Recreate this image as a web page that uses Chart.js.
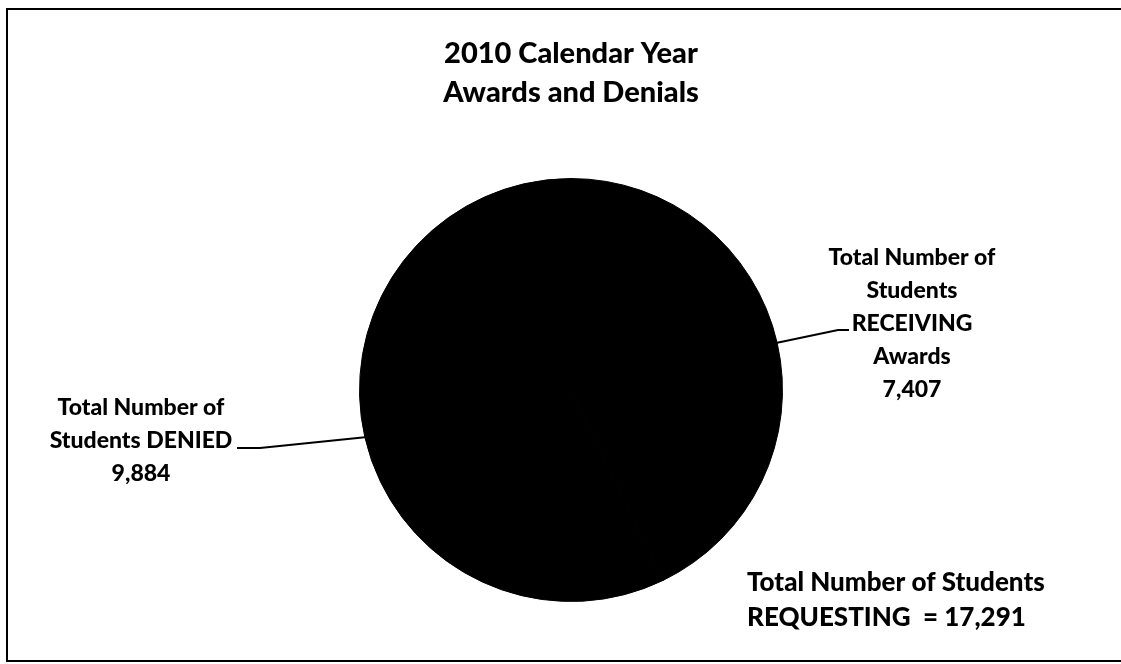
<!DOCTYPE html>
<html lang="en">
<head>
    <meta charset="UTF-8">
    <title>2010 Calendar Year Awards and Denials</title>
    <script src="https://cdn.jsdelivr.net/npm/chart.js"></script>
    <style>
        body { margin: 0; background: #fff; }
        .chart-container { width: 1121px; height: 664px; position: relative; }
    </style>
</head>
<body>
    <div class="chart-container">
        <canvas id="myChart"></canvas>
    </div>

    <script>
        // Data
        const categories = ['Total Number of Students RECEIVING Awards', 'Total Number of Students DENIED'];
        const studentCounts = [7407, 9884];
        const labelLines = [
            ['Total Number of', 'Students', 'RECEIVING', 'Awards'],
            ['Total Number of', 'Students DENIED']
        ];
        const totalLines = ['Total Number of Students', 'REQUESTING  = 17,291'];

        const FONT = 'Lato, "Open Sans", sans-serif';

        // where each label's leader line bends and where its text block sits
        const labelLayout = [
            { elbow: [838, 330], end: [849, 330], textX: 912, textY: 258, lineGap: 33 },
            { elbow: [260, 448], end: [237, 448], textX: 141, textY: 408, lineGap: 33 }
        ];

        const fmt = v => v.toLocaleString('en-US');

        const ctx = document.getElementById('myChart').getContext('2d');

        new Chart(ctx, {
            type: 'pie',
            data: {
                labels: categories,
                datasets: [{
                    data: studentCounts,
                    backgroundColor: '#000',
                    borderColor: '#000',
                    borderWidth: 1
                }]
            },
            options: {
                responsive: true,
                maintainAspectRatio: false,
                animation: false,
                layout: { padding: { left: 100, right: 79, top: 0, bottom: 62 } },
                plugins: {
                    legend: { display: false },
                    tooltip: { enabled: false },
                    title: {
                        display: true,
                        text: ['2010 Calendar Year', 'Awards and Denials'],
                        color: '#000',
                        font: { family: FONT, size: 29, weight: '900', lineHeight: 1.345 },
                        padding: { top: 34, bottom: 66 }
                    }
                }
            },
            plugins: [{
                id: 'frame',
                beforeDraw: (chart) => {
                    const c = chart.ctx;
                    c.save();
                    c.fillStyle = '#fff';
                    c.fillRect(0, 0, chart.width, chart.height);
                    // frame: left, top and bottom edges only (right edge is cut off)
                    c.beginPath();
                    c.moveTo(chart.width, 9);
                    c.lineTo(7, 9);
                    c.lineTo(7, 661);
                    c.lineTo(chart.width, 661);
                    c.strokeStyle = '#000';
                    c.lineWidth = 2;
                    c.stroke();
                    c.restore();
                }
            }, {
                id: 'leaderLabels',
                afterDraw: (chart) => {
                    const c = chart.ctx;
                    const meta = chart.getDatasetMeta(0);
                    c.save();
                    meta.data.forEach((arc, i) => {
                        const mid = (arc.startAngle + arc.endAngle) / 2;
                        const sx = arc.x + Math.cos(mid) * arc.outerRadius;
                        const sy = arc.y + Math.sin(mid) * arc.outerRadius;
                        const lay = labelLayout[i];

                        c.beginPath();
                        c.moveTo(sx, sy);
                        c.lineTo(lay.elbow[0], lay.elbow[1]);
                        c.lineTo(lay.end[0], lay.end[1]);
                        c.strokeStyle = '#000';
                        c.lineWidth = 2;
                        c.stroke();

                        c.fillStyle = '#000';
                        c.font = '900 23px ' + FONT;
                        c.textAlign = 'center';
                        c.textBaseline = 'middle';
                        const lines = labelLines[i].concat([fmt(chart.data.datasets[0].data[i])]);
                        lines.forEach((t, k) => {
                            c.fillText(t, lay.textX, lay.textY + k * lay.lineGap);
                        });
                    });

                    c.font = '900 26px ' + FONT;
                    c.textAlign = 'left';
                    c.textBaseline = 'middle';
                    totalLines.forEach((t, k) => {
                        c.fillText(t, 747, 583 + k * 35);
                    });
                    c.restore();
                }
            }]
        });
    </script>
</body>
</html>
